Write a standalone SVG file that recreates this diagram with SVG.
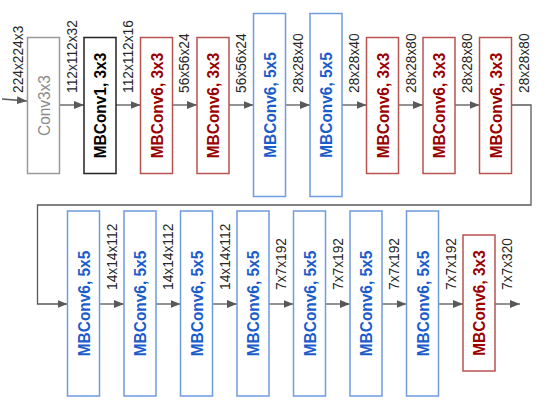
<svg xmlns="http://www.w3.org/2000/svg" width="554" height="403" viewBox="0 0 554 403">
<defs>
<marker id="ah" viewBox="0 0 10 8" refX="10" refY="4" markerWidth="10" markerHeight="8" markerUnits="userSpaceOnUse" orient="auto">
<path d="M0,0 L10,4 L0,8 Z" fill="#595959"/>
</marker>
</defs>
<style>
rect{fill:#fff;stroke-width:1.5}
.g rect{stroke:#9a9a9a}
.k rect{stroke:#222}
.r rect{stroke:#b85450}
.b rect{stroke:#6f9be0}
.bl{font-family:"Liberation Sans",Arial,sans-serif;font-size:16.8px;font-weight:bold;text-anchor:middle}
.g text{fill:#8a8a8a;font-weight:normal}
.k text{fill:#000}
.r text{fill:#990000}
.b text{fill:#1a5ccc}
.dim{font-family:"Liberation Sans",Arial,sans-serif;font-size:14.8px;fill:#262626}
.c path,.c line{stroke:#595959;stroke-width:1.3;fill:none}
</style>
<rect x="0" y="0" width="554" height="403" style="fill:#fff;stroke:none"/>
<g class="c">
<line x1="2" y1="99" x2="27" y2="101" marker-end="url(#ah)"/>
<line x1="59.5" y1="105" x2="84" y2="105" marker-end="url(#ah)"/>
<line x1="116" y1="105" x2="140.5" y2="105" marker-end="url(#ah)"/>
<line x1="172.5" y1="105" x2="197" y2="105" marker-end="url(#ah)"/>
<line x1="229" y1="105" x2="253.5" y2="105" marker-end="url(#ah)"/>
<line x1="285.5" y1="105" x2="310" y2="105" marker-end="url(#ah)"/>
<line x1="342" y1="105" x2="366.5" y2="105" marker-end="url(#ah)"/>
<line x1="398.5" y1="105" x2="423" y2="105" marker-end="url(#ah)"/>
<line x1="455" y1="105" x2="479.5" y2="105" marker-end="url(#ah)"/>
<path d="M511.5,105 H531 V205 H37.5 V304 H67.5" marker-end="url(#ah)"/>
<line x1="99.5" y1="304" x2="124" y2="304" marker-end="url(#ah)"/>
<line x1="156" y1="304" x2="180.5" y2="304" marker-end="url(#ah)"/>
<line x1="212.5" y1="304" x2="237" y2="304" marker-end="url(#ah)"/>
<line x1="269" y1="304" x2="293.5" y2="304" marker-end="url(#ah)"/>
<line x1="325.5" y1="304" x2="350" y2="304" marker-end="url(#ah)"/>
<line x1="382" y1="304" x2="406.5" y2="304" marker-end="url(#ah)"/>
<line x1="438.5" y1="304" x2="463" y2="304" marker-end="url(#ah)"/>
<line x1="495" y1="304" x2="520" y2="304" marker-end="url(#ah)"/>
</g>
<g id="n1" class="g"><rect x="27.5" y="37.5" width="32" height="136"/><text class="bl" transform="translate(49.6,105.5) rotate(-90) scale(0.92,1)">Conv3x3</text></g>
<g id="n2" class="k"><rect x="84" y="37.5" width="32" height="136"/><text class="bl" transform="translate(106.1,105.5) rotate(-90) scale(0.92,1)">MBConv1, 3x3</text></g>
<g id="n3" class="r"><rect x="140.5" y="37.5" width="32" height="136"/><text class="bl" transform="translate(162.6,105.5) rotate(-90) scale(0.92,1)">MBConv6, 3x3</text></g>
<g id="n4" class="r"><rect x="197" y="37.5" width="32" height="136"/><text class="bl" transform="translate(219.1,105.5) rotate(-90) scale(0.92,1)">MBConv6, 3x3</text></g>
<g id="n5" class="b"><rect x="253.5" y="13.5" width="32" height="183"/><text class="bl" transform="translate(275.6,105) rotate(-90) scale(0.92,1)">MBConv6, 5x5</text></g>
<g id="n6" class="b"><rect x="310" y="13.5" width="32" height="183"/><text class="bl" transform="translate(332.1,105) rotate(-90) scale(0.92,1)">MBConv6, 5x5</text></g>
<g id="n7" class="r"><rect x="366.5" y="37.5" width="32" height="136"/><text class="bl" transform="translate(388.6,105.5) rotate(-90) scale(0.92,1)">MBConv6, 3x3</text></g>
<g id="n8" class="r"><rect x="423" y="37.5" width="32" height="136"/><text class="bl" transform="translate(445.1,105.5) rotate(-90) scale(0.92,1)">MBConv6, 3x3</text></g>
<g id="n9" class="r"><rect x="479.5" y="37.5" width="32" height="136"/><text class="bl" transform="translate(501.6,105.5) rotate(-90) scale(0.92,1)">MBConv6, 3x3</text></g>
<g id="n10" class="b"><rect x="67.5" y="211" width="32" height="185"/><text class="bl" transform="translate(89.6,303.5) rotate(-90) scale(0.92,1)">MBConv6, 5x5</text></g>
<g id="n11" class="b"><rect x="124" y="211" width="32" height="185"/><text class="bl" transform="translate(146.1,303.5) rotate(-90) scale(0.92,1)">MBConv6, 5x5</text></g>
<g id="n12" class="b"><rect x="180.5" y="211" width="32" height="185"/><text class="bl" transform="translate(202.6,303.5) rotate(-90) scale(0.92,1)">MBConv6, 5x5</text></g>
<g id="n13" class="b"><rect x="237" y="211" width="32" height="185"/><text class="bl" transform="translate(259.1,303.5) rotate(-90) scale(0.92,1)">MBConv6, 5x5</text></g>
<g id="n14" class="b"><rect x="293.5" y="211" width="32" height="185"/><text class="bl" transform="translate(315.6,303.5) rotate(-90) scale(0.92,1)">MBConv6, 5x5</text></g>
<g id="n15" class="b"><rect x="350" y="211" width="32" height="185"/><text class="bl" transform="translate(372.1,303.5) rotate(-90) scale(0.92,1)">MBConv6, 5x5</text></g>
<g id="n16" class="b"><rect x="406.5" y="211" width="32" height="185"/><text class="bl" transform="translate(428.6,303.5) rotate(-90) scale(0.92,1)">MBConv6, 5x5</text></g>
<g id="n17" class="r"><rect x="463" y="235" width="32" height="136"/><text class="bl" transform="translate(485.1,303) rotate(-90) scale(0.92,1)">MBConv6, 3x3</text></g>
<g id="labels" class="dim">
<text transform="translate(23,93) rotate(-90) scale(0.93,1)">224x224x3</text>
<text transform="translate(76.5,93) rotate(-90) scale(0.93,1)">112x112x32</text>
<text transform="translate(133,93) rotate(-90) scale(0.93,1)">112x112x16</text>
<text transform="translate(189,93) rotate(-90) scale(0.93,1)">56x56x24</text>
<text transform="translate(246,93) rotate(-90) scale(0.93,1)">56x56x24</text>
<text transform="translate(302.5,93) rotate(-90) scale(0.93,1)">28x28x40</text>
<text transform="translate(359,93) rotate(-90) scale(0.93,1)">28x28x40</text>
<text transform="translate(415.5,93) rotate(-90) scale(0.93,1)">28x28x80</text>
<text transform="translate(472,93) rotate(-90) scale(0.93,1)">28x28x80</text>
<text transform="translate(528.5,93) rotate(-90) scale(0.93,1)">28x28x80</text>
<text transform="translate(116.5,290) rotate(-90) scale(0.93,1)">14x14x112</text>
<text transform="translate(173,290) rotate(-90) scale(0.93,1)">14x14x112</text>
<text transform="translate(229.5,290) rotate(-90) scale(0.93,1)">14x14x112</text>
<text transform="translate(286,290) rotate(-90) scale(0.93,1)">7x7x192</text>
<text transform="translate(342.5,290) rotate(-90) scale(0.93,1)">7x7x192</text>
<text transform="translate(399,290) rotate(-90) scale(0.93,1)">7x7x192</text>
<text transform="translate(455.5,290) rotate(-90) scale(0.93,1)">7x7x192</text>
<text transform="translate(512,290) rotate(-90) scale(0.93,1)">7x7x320</text>
</g>
</svg>
